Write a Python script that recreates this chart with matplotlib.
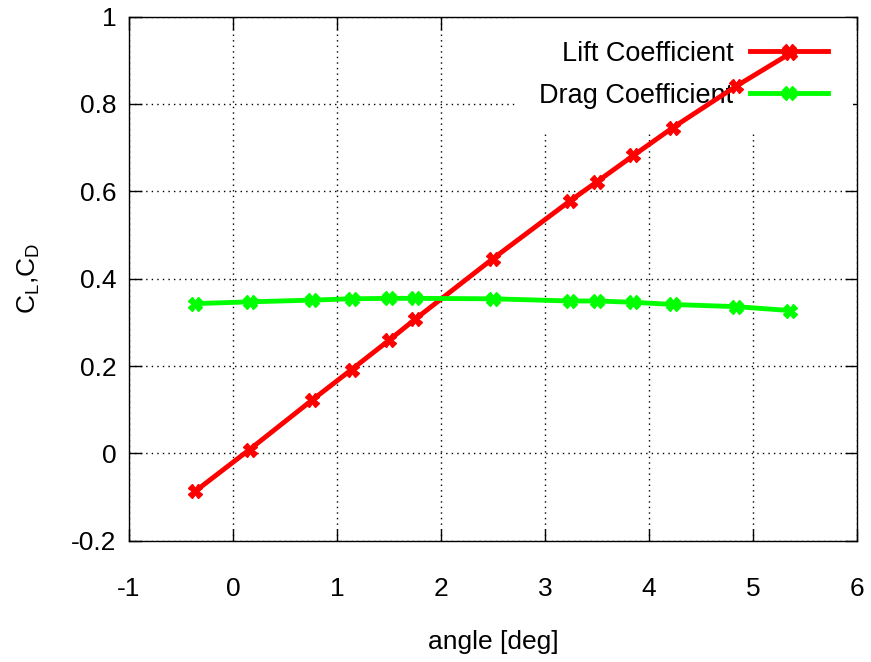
import matplotlib
matplotlib.use("Agg")
import matplotlib.pyplot as plt

# angle of attack [deg] and the two coefficients
angle = [-0.36, 0.16, 0.76, 1.14, 1.50, 1.75, 2.50, 3.24, 3.50, 3.85, 4.23, 4.84, 5.36]
lift = [-0.086, 0.009, 0.122, 0.192, 0.259, 0.307, 0.446, 0.578, 0.622, 0.682, 0.746, 0.841, 0.916]
drag = [0.343, 0.347, 0.351, 0.354, 0.355, 0.355, 0.354, 0.349, 0.349, 0.346, 0.341, 0.336, 0.327]

xticks = [-1, 0, 1, 2, 3, 4, 5, 6]
yticks = [-0.2, 0, 0.2, 0.4, 0.6, 0.8, 1]
ytick_labels = ['-0.2', '0', '0.2', '0.4', '0.6', '0.8', '1']

plt.rcParams['font.family'] = ['Liberation Sans', 'DejaVu Sans']
plt.rcParams['mathtext.default'] = 'regular'

fig = plt.figure(figsize=(8.71, 6.62), dpi=100)
ax = fig.add_axes([0.148, 0.183, 0.836, 0.792])

ax.plot(angle, lift, color='#ff0000', lw=3.5, marker='X', ms=10, zorder=3,
        label='Lift Coefficient')
ax.plot(angle, drag, color='#00ff00', lw=3.5, marker='X', ms=10, zorder=3,
        label='Drag Coefficient')

ax.set_xlim(-1, 6)
ax.set_ylim(-0.2, 1)
ax.set_xticks(xticks)
ax.set_yticks(yticks)
ax.set_xticklabels([str(t) for t in xticks])
ax.set_yticklabels(ytick_labels)

ax.tick_params(direction='in', length=9, width=1, top=True, right=True,
               labelsize=19)
ax.tick_params(axis='x', pad=26)
ax.tick_params(axis='y', pad=9)
for s in ax.spines.values():
    s.set_linewidth(1)

ax.set_axisbelow(True)
ax.grid(True, color='black', linestyle=(0, (1, 3)), linewidth=1)

ax.set_xlabel('angle [deg]', fontsize=19, labelpad=21)
ax.set_ylabel('C$_{L}$,C$_{D}$', fontsize=19, labelpad=21)

# key sits under the curves but hides the grid behind it
leg = ax.legend(loc='upper right', bbox_to_anchor=(0.994, 1.0),
                markerfirst=False, fontsize=19.5,
                frameon=True, fancybox=False, framealpha=1, edgecolor='none',
                handlelength=2.9, handletextpad=0.6, labelspacing=0.58,
                borderpad=0.9, borderaxespad=0.0)
leg.set_zorder(2)

fig.savefig('out.png', dpi=100)
